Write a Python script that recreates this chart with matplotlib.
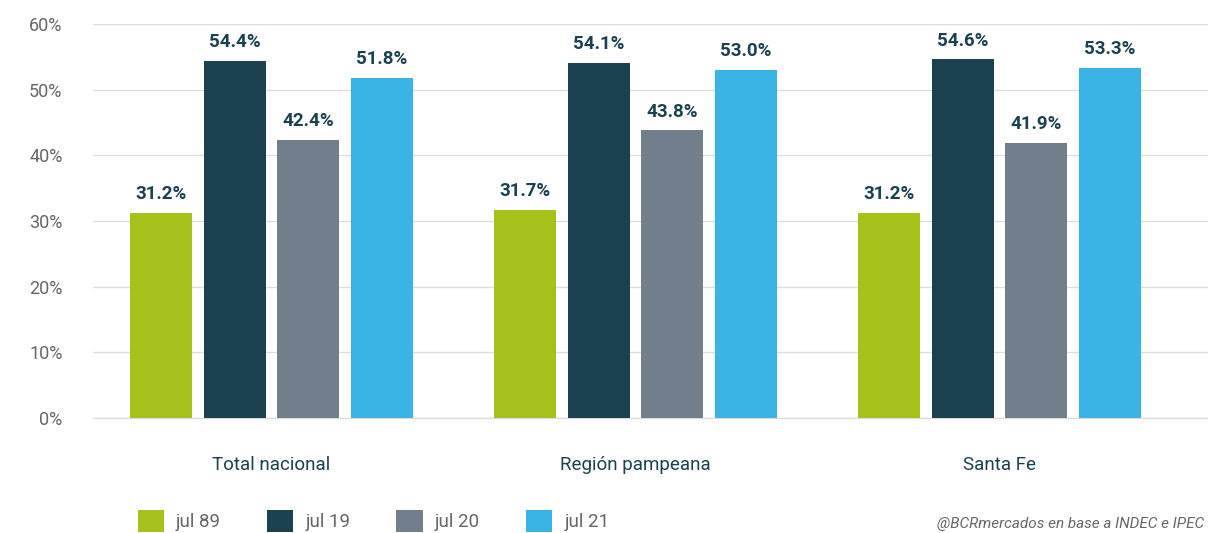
import matplotlib
matplotlib.use("Agg")
import matplotlib.pyplot as plt
import numpy as np
from matplotlib.patches import Patch

categories = ["Total nacional", "Región pampeana", "Santa Fe"]
series_names = ["jul 89", "jul 19", "jul 20", "jul 21"]
jul89 = [31.2, 31.7, 31.2]
jul19 = [54.4, 54.1, 54.6]
jul20 = [42.4, 43.8, 41.9]
jul21 = [51.8, 53.0, 53.3]
yticks = [0, 10, 20, 30, 40, 50, 60]

colors = ["#a7c11b", "#1b4150", "#717f8c", "#3ab4e6"]
series = [jul89, jul19, jul20, jul21]

plt.rcParams['font.family'] = ['Roboto', 'DejaVu Sans']

fig = plt.figure(figsize=(12.08, 5.33), dpi=100)
ax = fig.add_axes([93/1208, 1-418/533, 1-93/1208, (418-24)/533])

x = np.arange(len(categories))
width = 0.170
step = 0.202
offsets = (np.arange(4) - 1.5) * step
for i, (vals, c) in enumerate(zip(series, colors)):
    bars = ax.bar(x + offsets[i], vals, width, color=c, zorder=3, label=series_names[i])
    for b, v in zip(bars, vals):
        ax.annotate(f"{v:.1f}%", (b.get_x() + b.get_width()/2, v),
                    xytext=(0, 7), textcoords="offset points", ha="center", va="bottom",
                    fontsize=13.5, fontweight="bold", color="#1b4150")

ax.set_xlim(-0.49, 2.573)
ax.set_ylim(0, 60)
ax.set_yticks(yticks)
ax.set_yticklabels([f"{t}%" for t in yticks], fontsize=13, color="#666666")
ax.tick_params(axis="x", length=0, pad=27)
ax.tick_params(axis="y", length=0, pad=22)
ax.set_xticks(x)
ax.set_xticklabels(categories, fontsize=13.5, color="#1b4150")
ax.grid(axis="y", color="#dddddd", linewidth=1, zorder=0)
for s in ["top", "right", "left"]:
    ax.spines[s].set_visible(False)
ax.spines["bottom"].set_color("#dddddd")
ax.spines["bottom"].set_linewidth(1)

handles = [Patch(facecolor=c, edgecolor="none") for c in colors]
leg = fig.legend(handles, series_names, loc="upper left", bbox_to_anchor=(130/1208, 1-502/533),
                 ncol=4, frameon=False, fontsize=13.5, handlelength=1.4, handleheight=1.5,
                 handletextpad=0.65, columnspacing=2.45, labelcolor="#666666", borderaxespad=0)

fig.text(937/1208, 1-524/533, "@BCRmercados en base a INDEC e IPEC", fontsize=11,
         style="italic", color="#666666", ha="left", va="center")

fig.savefig("out.png", dpi=100)
